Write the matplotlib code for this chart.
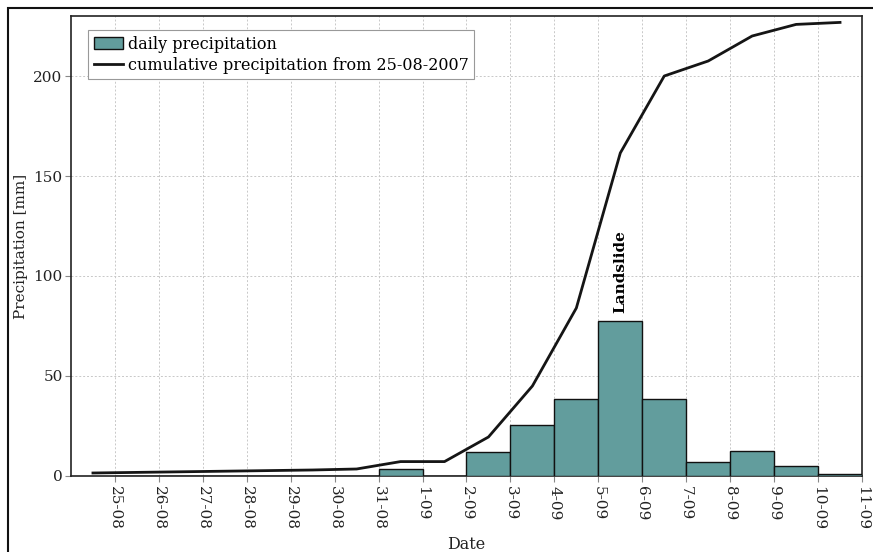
import numpy as np
import matplotlib
matplotlib.use("Agg")
import matplotlib.pyplot as plt
from matplotlib.patches import Rectangle

plt.rcParams['font.family'] = ['DejaVu Serif']

# tick labels (one per day)
dates = ['25-08', '26-08', '27-08', '28-08', '29-08', '30-08', '31-08', '1-09',
         '2-09', '3-09', '4-09', '5-09', '6-09', '7-09', '8-09', '9-09', '10-09', '11-09']

# daily precipitation [mm], bar starts at the given date
daily = [0, 0, 0, 0, 0, 0, 3.5, 0, 12, 25.5, 38.5, 77.5, 38.5, 7, 12.5, 5, 0.8]

# cumulative precipitation [mm], one value per day interval (24-08/25-08 ... 10-09/11-09)
cumulative = [1.5, 1.8, 2.1, 2.4, 2.7, 3.0, 3.5, 7.2, 7.2, 19.5, 45, 84,
              161.5, 200, 207.5, 220, 225.8, 226.8]

landslide_day = '5-09'

fig = plt.figure(figsize=(8.73, 5.52), dpi=100)
ax = fig.add_axes([0.0813, 0.1377, 0.9061, 0.8333])

xd = np.arange(len(daily))
bars = ax.bar(xd, daily, width=1.0, align='edge', color='#629d9d', edgecolor='#111111',
              linewidth=1.0, label='daily precipitation', zorder=3)

xc = np.arange(len(cumulative)) - 0.5
line, = ax.plot(xc, cumulative, color='#151515', linewidth=2.0,
                label='cumulative precipitation from 25-08-2007', zorder=4)

i_ls = dates.index(landslide_day)
ax.text(i_ls + 0.5, daily[i_ls] + 4, 'Landslide', rotation=90, ha='center', va='bottom',
        fontsize=11, fontweight='bold', zorder=5)

ax.set_xlim(-1, len(dates) - 1)
ax.set_ylim(0, 230)
ax.set_xticks(np.arange(len(dates)))
ax.set_xticklabels(dates, rotation=270, fontsize=11, color='#222222')
ax.set_yticks([0, 50, 100, 150, 200])
ax.tick_params(axis='y', labelsize=11, colors='#222222', pad=2)
ax.tick_params(axis='both', color='#888888', length=4)

ax.grid(True, linestyle=(0, (2, 2)), color='#c8c8c8', linewidth=0.7, zorder=0)
ax.set_axisbelow(True)
for s in ax.spines.values():
    s.set_color('#222222')
    s.set_linewidth(1.2)

ax.set_xlabel('Date', fontsize=11.5, color='#222222', labelpad=4)
ax.set_ylabel('Precipitation [mm]', fontsize=11, color='#222222', labelpad=4)

leg = ax.legend([bars, line], [bars.get_label(), line.get_label()],
                loc='upper left', bbox_to_anchor=(0.012, 0.987), fontsize=11.5,
                fancybox=False, framealpha=1, edgecolor='#999999',
                handlelength=1.8, handletextpad=0.3, borderpad=0.35, labelspacing=0.25)
leg.get_frame().set_linewidth(0.8)

# frame around the figure
fig.patches.append(Rectangle((7.5 / 873, -0.1), 1.2, (552 - 8) / 552 + 0.1,
                             transform=fig.transFigure, fill=False,
                             edgecolor='#111111', linewidth=1.5))

fig.savefig('out.png', dpi=100)
